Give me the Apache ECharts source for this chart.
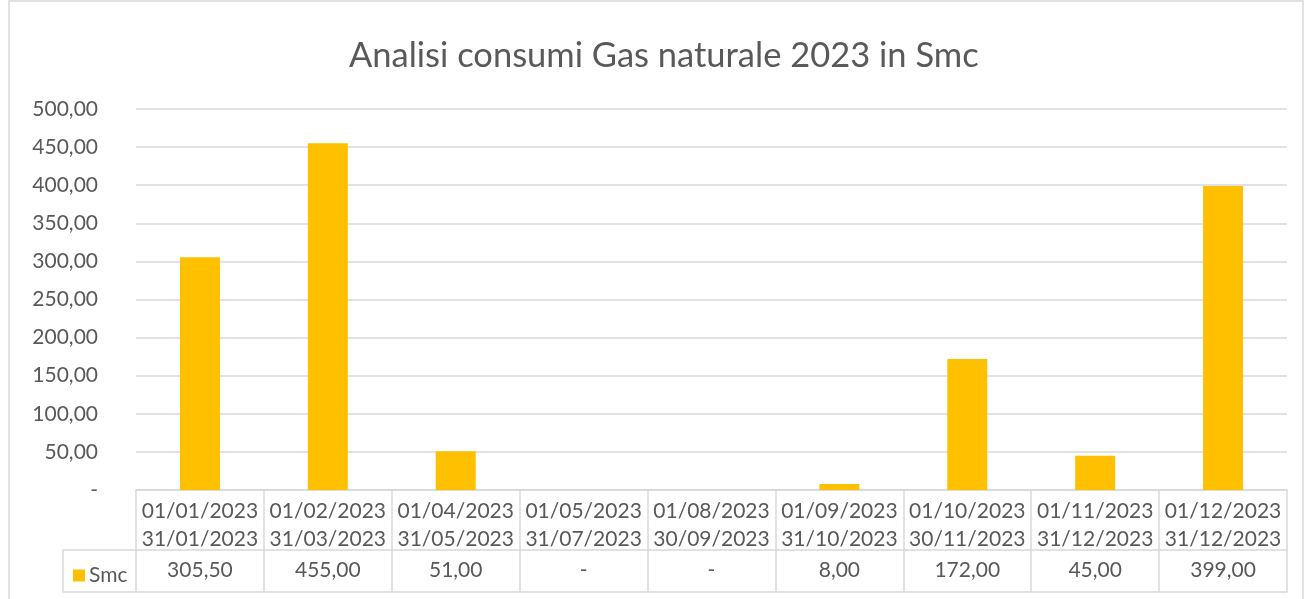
<!DOCTYPE html>
<html lang="it">
<head>
    <meta charset="UTF-8">
    <title>Analisi consumi Gas naturale 2023 in Smc</title>
    <script src="https://cdn.jsdelivr.net/npm/echarts@6/dist/echarts.min.js"></script>
    <style>
        html, body { margin: 0; padding: 0; background: #fff; }
        #chart { width: 1305px; height: 599px; }
    </style>
</head>
<body>
    <div id="chart"></div>
    <script>
        // dati del grafico
        var periodStart = ['01/01/2023', '01/02/2023', '01/04/2023', '01/05/2023', '01/08/2023', '01/09/2023', '01/10/2023', '01/11/2023', '01/12/2023'];
        var periodEnd = ['31/01/2023', '31/03/2023', '31/05/2023', '31/07/2023', '30/09/2023', '31/10/2023', '30/11/2023', '31/12/2023', '31/12/2023'];
        var smcValues = [305.5, 455, 51, 0, 0, 8, 172, 45, 399];
        var yTicks = [0, 50, 100, 150, 200, 250, 300, 350, 400, 450, 500];

        var categories = periodStart.map(function (s, i) { return s + '\n' + periodEnd[i]; });

        // formato contabile: 0 -> "-"
        function fmt(v) {
            if (!v) return '-';
            return v.toFixed(2).replace('.', ',');
        }

        var FONT = 'Lato';
        var TXT = '#595959';
        var LINE = '#d9d9d9';
        var gl = 136, gr = 18, gt = 109, gb = 109;
        var rowH = 60, valH = 42;

        var chart = echarts.init(document.getElementById('chart'));
        chart.setOption({
            animation: false,
            textStyle: { fontFamily: FONT },
            title: {
                text: 'Analisi consumi Gas naturale 2023 in Smc',
                left: 344,
                top: 33,
                textStyle: { fontFamily: FONT, fontSize: 34.5, fontWeight: 'normal', color: TXT }
            },
            legend: {
                data: ['Smc'],
                left: 68,
                top: 560,
                icon: 'rect',
                itemWidth: 12,
                itemHeight: 12,
                itemGap: 5,
                textStyle: { fontFamily: FONT, fontSize: 21, color: TXT, padding: [0, 0, 0, -1] }
            },
            grid: { left: gl, right: gr, top: gt, bottom: gb },
            xAxis: [{
                type: 'category',
                data: categories,
                position: 'bottom',
                axisLine: { show: true, lineStyle: { color: LINE, width: 1.5 } },
                axisTick: { show: true, length: rowH + valH, interval: 0, lineStyle: { color: LINE, width: 1.5 } },
                axisLabel: { interval: 0, color: TXT, fontSize: 21, lineHeight: 28, margin: 7, fontFamily: FONT }
            }, {
                type: 'category',
                data: smcValues.map(fmt),
                position: 'bottom',
                offset: rowH,
                axisLine: { show: true, lineStyle: { color: LINE, width: 1.5 } },
                axisTick: { show: false },
                axisLabel: { interval: 0, color: TXT, fontSize: 21, margin: 10, fontFamily: FONT }
            }, {
                type: 'category',
                data: categories,
                position: 'bottom',
                offset: rowH + valH,
                axisLine: { show: true, lineStyle: { color: LINE, width: 1.5 } },
                axisTick: { show: false },
                axisLabel: { show: false }
            }],
            yAxis: {
                type: 'value',
                min: yTicks[0],
                max: yTicks[yTicks.length - 1],
                interval: yTicks[1] - yTicks[0],
                axisLine: { show: false },
                axisTick: { show: false },
                axisLabel: {
                    color: TXT, fontSize: 21, margin: 38, fontFamily: FONT,
                    formatter: function (v) { return v === 0 ? '-' : fmt(v); }
                },
                splitLine: { lineStyle: { color: LINE, width: 1.5 } }
            },
            series: [{
                name: 'Smc',
                type: 'bar',
                data: smcValues,
                barWidth: 40,
                itemStyle: { color: '#FFC000' }
            }],
            graphic: [
                // bordo area grafico
                { type: 'rect', shape: { x: 9, y: 1, width: 1294, height: 640 }, style: { fill: 'none', stroke: LINE, lineWidth: 1.5 }, silent: true },
                // cella legenda della tabella dati
                { type: 'polyline', shape: { points: [[gl, 599 - gb + rowH], [63, 599 - gb + rowH], [63, 599 - gb + rowH + valH], [gl, 599 - gb + rowH + valH]] }, style: { fill: 'none', stroke: LINE, lineWidth: 1.5 }, silent: true }
            ]
        });
    </script>
</body>
</html>
